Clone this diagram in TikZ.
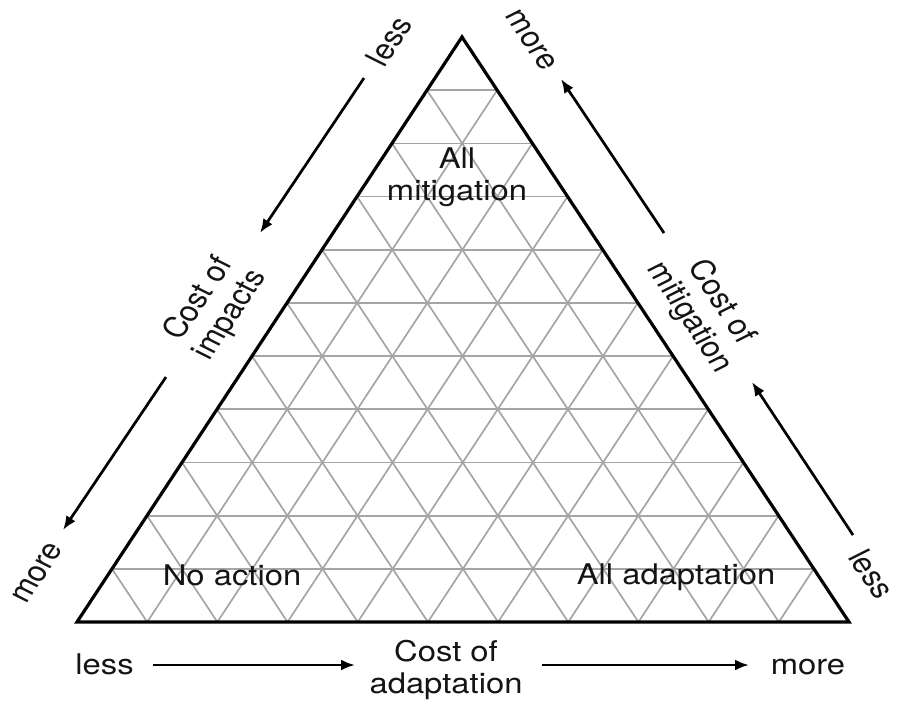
\documentclass[tikz,border=0pt]{standalone}
\usepackage{fontspec}
\setmainfont{TeX Gyre Heros}
\usetikzlibrary{calc,arrows.meta}
\definecolor{gridgray}{RGB}{165,165,165}
\definecolor{inkc}{RGB}{20,20,20}
\begin{document}
\begin{tikzpicture}[x=1pt,y=-1pt,
  gridline/.style={draw=gridgray, line width=1.7pt},
  border/.style={draw=black, line width=3.2pt, line join=miter},
  lbl/.style={font=\fontsize{28.5}{31.5}\selectfont, text=inkc, inner sep=0pt, xscale=1.15, align=center},
  arr/.style={draw=black, line width=2.7pt, -{Latex[length=14pt,width=11pt]}}]
\useasboundingbox (0,0) rectangle (897,702);
\coordinate (A) at (462,37);
\coordinate (L) at (77,622);
\coordinate (R) at (849,622);
\foreach \k in {1,...,10}{
  \draw[gridline] ($(L)!\k/11!(A)$) -- ($(R)!\k/11!(A)$);
  \draw[gridline] ($(L)!\k/11!(R)$) -- ($(A)!\k/11!(R)$);
  \draw[gridline] ($(L)!\k/11!(R)$) -- ($(L)!\k/11!(A)$);
}
\draw[border] (L) -- (A) -- (R) -- cycle;
% labels inside
\node[lbl] (allmit) at (457,177) {All\\mitigation};
\node[lbl, anchor=base] (noact) at (232,585) {No action};
\node[lbl, anchor=base] (alladapt) at (676,584) {All adaptation};
% bottom
\node[lbl, anchor=base] (bless) at (104.5,674) {less};
\node[lbl, anchor=base] (bmore) at (808,674) {more};
\node[lbl] (cadapt) at (446,670) {Cost of\\adaptation};
% left side
\node[lbl, rotate=60] (lless) at (389,41) {less};
\node[lbl, rotate=60] (cimp) at (215,307) {Cost of\\impacts};
\node[lbl, rotate=60] (lmore) at (38,573) {more};
% right side
\node[lbl, rotate=-60] (rmore) at (531,40) {more};
\node[lbl, rotate=-60] (cmit) at (705,310) {Cost of\\mitigation};
\node[lbl, rotate=-60] (rless) at (872,574) {less};
% arrows
\coordinate (la1s) at (364,78);  \coordinate (la1e) at (260,233);
\coordinate (la2s) at (166,377); \coordinate (la2e) at (63,530);
\coordinate (ra1s) at (664,233); \coordinate (ra1e) at (561,79);
\coordinate (ra2s) at (853,535); \coordinate (ra2e) at (752,382);
\coordinate (ba1s) at (153,665); \coordinate (ba1e) at (355,665);
\coordinate (ba2s) at (542,665); \coordinate (ba2e) at (749,665);
\draw[arr] (la1s) -- (la1e);
\draw[arr] (la2s) -- (la2e);
\draw[arr] (ra1s) -- (ra1e);
\draw[arr] (ra2s) -- (ra2e);
\draw[arr] (ba1s) -- (ba1e);
\draw[arr] (ba2s) -- (ba2e);
\end{tikzpicture}
\end{document}
